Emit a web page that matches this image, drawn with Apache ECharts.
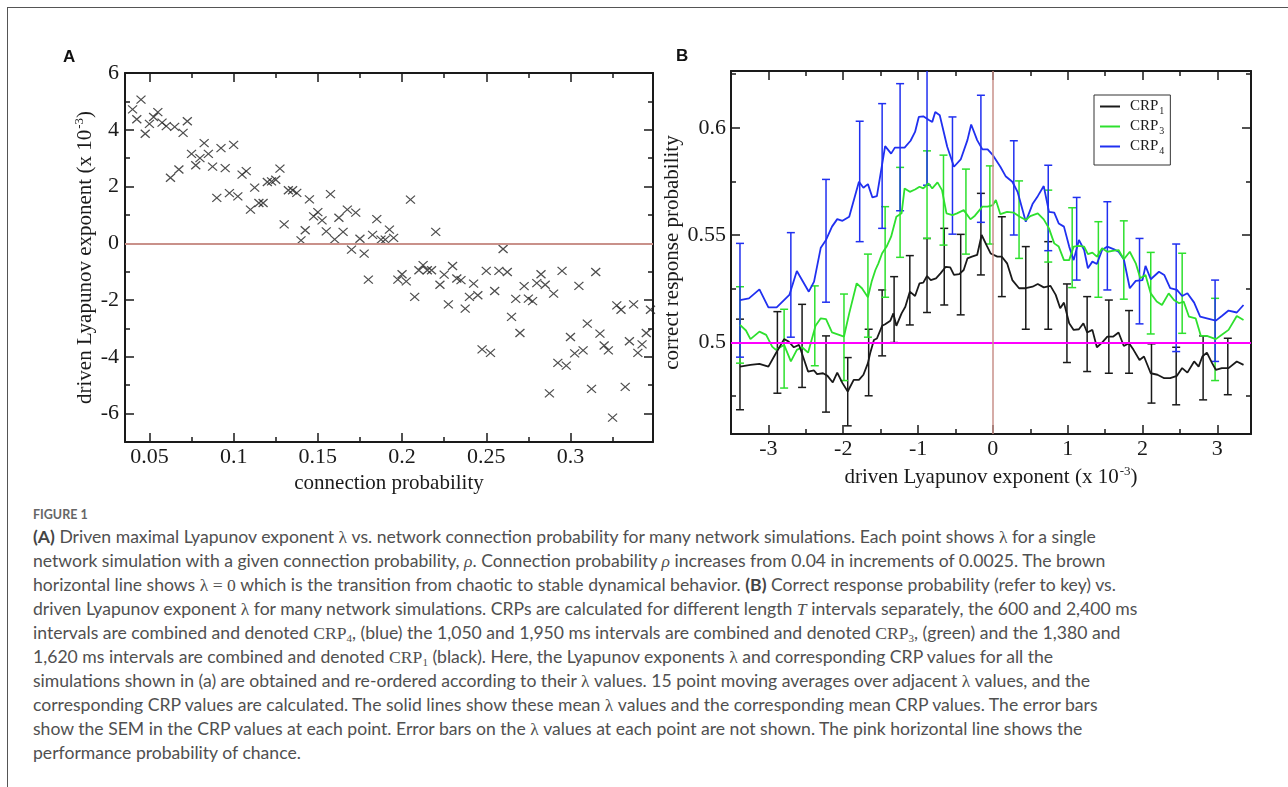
<!DOCTYPE html>
<html>
<head>
<meta charset="utf-8">
<script src="https://cdn.jsdelivr.net/npm/echarts@6/dist/echarts.min.js"></script>
<style>
  html, body { margin: 0; padding: 0; background: #fff; }
  #frame { position: absolute; left: 7px; top: 7px; width: 1300px; height: 800px;
           border-top: 1px solid #555; border-left: 1px solid #555; }
  #chart { position: absolute; left: 0; top: 0; width: 1288px; height: 500px; }
  #caption { position: absolute; left: 33px; top: 505px; font-family: Lato, "Open Sans", sans-serif;
             color: #505050; font-size: 17.6px; line-height: 24px; white-space: nowrap; }
  #caption .fig { font-size: 12.5px; font-weight: bold; color: #666; line-height: 20px; }
  #caption b { font-weight: bold; color: #444; }
  .m { font-family: "Liberation Serif", serif; }
  .mi { font-family: "Liberation Serif", serif; font-style: italic; }
  sub { font-size: 11px; vertical-align: -3px; line-height: 0; }
</style>
</head>
<body>
<div id="frame"></div>
<div id="chart"></div>
<div id="caption">
  <div class="fig">FIGURE 1</div>
  <div><b>(A)</b> Driven maximal Lyapunov exponent <span class="m">λ</span> vs. network connection probability for many network simulations. Each point shows <span class="m">λ</span> for a single</div>
  <div>network simulation with a given connection probability, <span class="mi">ρ</span>. Connection probability <span class="mi">ρ</span> increases from 0.04 in increments of 0.0025. The brown</div>
  <div>horizontal line shows <span class="m">λ = 0</span> which is the transition from chaotic to stable dynamical behavior. <b>(B)</b> Correct response probability (refer to key) vs.</div>
  <div>driven Lyapunov exponent <span class="m">λ</span> for many network simulations. CRPs are calculated for different length <span class="mi">T</span> intervals separately, the 600 and 2,400 ms</div>
  <div>intervals are combined and denoted <span class="m">CRP<sub>4</sub></span>, (blue) the 1,050 and 1,950 ms intervals are combined and denoted <span class="m">CRP<sub>3</sub></span>, (green) and the 1,380 and</div>
  <div>1,620 ms intervals are combined and denoted <span class="m">CRP<sub>1</sub></span> (black). Here, the Lyapunov exponents <span class="m">λ</span> and corresponding CRP values for all the</div>
  <div>simulations shown in (a) are obtained and re-ordered according to their <span class="m">λ</span> values. 15 point moving averages over adjacent <span class="m">λ</span> values, and the</div>
  <div>corresponding CRP values are calculated. The solid lines show these mean <span class="m">λ</span> values and the corresponding mean CRP values. The error bars</div>
  <div>show the SEM in the CRP values at each point. Error bars on the <span class="m">λ</span> values at each point are not shown. The pink horizontal line shows the</div>
  <div>performance probability of chance.</div>
</div>
<script>
// panel A: connection probability vs driven Lyapunov exponent (x 1e-3)
var rho = [0.04, 0.0425, 0.045, 0.0475, 0.05, 0.0525, 0.055, 0.0575, 0.06, 0.0625,
  0.065, 0.0675, 0.07, 0.0725, 0.075, 0.0775, 0.08, 0.0825, 0.085, 0.0875,
  0.09, 0.0925, 0.095, 0.0975, 0.1, 0.1025, 0.105, 0.1075, 0.11, 0.1125,
  0.115, 0.1175, 0.12, 0.1225, 0.125, 0.1275, 0.13, 0.1325, 0.135, 0.1375,
  0.14, 0.1425, 0.145, 0.1475, 0.15, 0.1525, 0.155, 0.1575, 0.16, 0.1625,
  0.165, 0.1675, 0.17, 0.1725, 0.175, 0.1775, 0.18, 0.1825, 0.185, 0.1875,
  0.19, 0.1925, 0.195, 0.1975, 0.2, 0.2025, 0.205, 0.2075, 0.21, 0.2125,
  0.215, 0.2175, 0.22, 0.2225, 0.225, 0.2275, 0.23, 0.2325, 0.235, 0.2375,
  0.24, 0.2425, 0.245, 0.2475, 0.25, 0.2525, 0.255, 0.2575, 0.26, 0.2625,
  0.265, 0.2675, 0.27, 0.2725, 0.275, 0.2775, 0.28, 0.2825, 0.285, 0.2875,
  0.29, 0.2925, 0.295, 0.2975, 0.3, 0.3025, 0.305, 0.3075, 0.31, 0.3125,
  0.315, 0.3175, 0.32, 0.3225, 0.325, 0.3275, 0.33, 0.3325, 0.335, 0.3375,
  0.34, 0.3425, 0.345, 0.3475];
var lyap = [4.72, 4.37, 5.06, 3.86, 4.21, 4.45, 4.62, 4.25, 4.13, 2.31,
  4.10, 2.60, 3.89, 4.30, 3.15, 2.75, 3.00, 3.53, 3.15, 2.70,
  1.60, 3.35, 2.65, 1.77, 3.47, 1.65, 2.42, 2.54, 1.19, 1.96,
  1.42, 1.42, 2.16, 2.18, 2.24, 2.63, 0.67, 1.87, 1.87, 1.78,
  0.10, 0.46, 1.55, 0.95, 1.10, 0.81, 0.42, 1.73, 0.14, 0.90,
  0.40, 1.19, -0.22, 1.08, 0.16, -0.36, -1.28, 0.30, 0.85, 0.13,
  0.13, 0.48, 0.19, -1.28, -1.09, -1.34, 1.54, -1.89, -0.95, -0.77,
  -0.95, -0.95, 0.40, -1.46, -1.10, -2.15, -0.80, -1.24, -1.30, -2.30,
  -1.89, -1.42, -1.83, -3.74, -0.97, -3.86, -1.68, -0.97, -0.20, -1.01,
  -2.59, -1.96, -3.16, -1.51, -1.95, -2.04, -1.40, -1.09, -1.46, -5.29,
  -1.77, -4.21, -0.97, -4.31, -3.30, -3.88, -1.50, -3.77, -2.83, -5.13,
  -1.01, -3.18, -3.60, -3.77, -6.14, -2.19, -2.34, -5.06, -3.45, -2.15,
  -3.86, -3.56, -3.16, -2.34];
var ticksAx = [0.05, 0.1, 0.15, 0.2, 0.25, 0.3];
var minorAx = [0.075, 0.125, 0.175, 0.225, 0.275, 0.325];
var ticksAy = [-6, -4, -2, 0, 2, 4, 6];
var minorAy = [-5, -3, -1, 1, 3, 5];

// panel B: moving averages of CRP vs driven Lyapunov exponent
var lamCRP4 = [-3.38, -3.26, -3.12, -3.0, -2.89, -2.72, -2.62, -2.46, -2.39, -2.30,
  -2.23, -2.15, -2.08, -2.01, -1.92, -1.79, -1.73, -1.67, -1.61, -1.55,
  -1.44, -1.36, -1.31, -1.18, -1.10, -1.04, -0.99, -0.93, -0.85, -0.81,
  -0.77, -0.71, -0.61, -0.52, -0.43, -0.34, -0.29, -0.21, -0.14, -0.07,
  0.0, 0.10, 0.17, 0.26, 0.33, 0.44, 0.53, 0.60, 0.68, 0.75,
  0.82, 0.88, 0.95, 1.02, 1.08, 1.15, 1.22, 1.27, 1.33, 1.39,
  1.46, 1.53, 1.62, 1.68, 1.75, 1.83, 1.91, 2.0, 2.04, 2.11,
  2.22, 2.29, 2.37, 2.46, 2.53, 2.60, 2.69, 2.77, 2.86, 2.98,
  3.06, 3.15, 3.26, 3.35];
var crp4 = [0.5198, 0.5206, 0.5248, 0.5164, 0.5164, 0.5222, 0.5333, 0.5237, 0.5284, 0.5442,
  0.5478, 0.554, 0.5575, 0.5567, 0.5586, 0.5749, 0.5721, 0.5738, 0.5676, 0.5682,
  0.5915, 0.588, 0.5908, 0.5908, 0.594, 0.5981, 0.6051, 0.6054, 0.6036, 0.6028,
  0.6074, 0.6059, 0.5912, 0.5819, 0.5853, 0.5943, 0.6016, 0.5943, 0.59, 0.59,
  0.5873, 0.5819, 0.5775, 0.5749, 0.5702, 0.5563, 0.5645, 0.5682, 0.5729, 0.5609,
  0.5605, 0.5555, 0.554, 0.5447, 0.5384, 0.5478, 0.5431, 0.5346, 0.5377, 0.5366,
  0.5431, 0.5447, 0.5434, 0.5423, 0.5388, 0.5253, 0.5287, 0.5291, 0.5357, 0.5295,
  0.533, 0.5315, 0.5253, 0.5245, 0.5217, 0.523, 0.5186, 0.5121, 0.5113, 0.5102,
  0.5124, 0.5149, 0.514, 0.5175];
var lamCRP3 = [-3.38, -3.30, -3.24, -3.12, -3.03, -2.95, -2.90, -2.79, -2.70, -2.62,
  -2.55, -2.47, -2.37, -2.30, -2.23, -2.15, -1.99, -1.92, -1.82, -1.75,
  -1.67, -1.62, -1.57, -1.53, -1.48, -1.42, -1.36, -1.29, -1.22, -1.18,
  -1.11, -1.04, -0.98, -0.93, -0.86, -0.81, -0.74, -0.68, -0.62, -0.54,
  -0.48, -0.39, -0.30, -0.24, -0.14, -0.07, 0.0, 0.04, 0.10, 0.19,
  0.28, 0.36, 0.44, 0.50, 0.60, 0.68, 0.75, 0.82, 0.88, 0.95,
  1.02, 1.08, 1.15, 1.22, 1.27, 1.33, 1.39, 1.46, 1.53, 1.62,
  1.68, 1.75, 1.83, 1.91, 1.97, 2.04, 2.11, 2.19, 2.26, 2.35,
  2.42, 2.49, 2.55, 2.62, 2.71, 2.78, 2.86, 2.98, 3.06, 3.15,
  3.26, 3.35];
var crp3 = [0.5082, 0.5056, 0.5016, 0.5051, 0.5036, 0.4981, 0.4966, 0.4989, 0.4912, 0.4966,
  0.4978, 0.4953, 0.5078, 0.5113, 0.5109, 0.5047, 0.5028, 0.5136, 0.5276, 0.5253,
  0.5211, 0.5284, 0.5338, 0.5369, 0.5416, 0.5447, 0.5493, 0.5586, 0.5602, 0.5718,
  0.5702, 0.5713, 0.5726, 0.5718, 0.5741, 0.5718, 0.5746, 0.571, 0.5602, 0.5594,
  0.5602, 0.5617, 0.5574, 0.5591, 0.5633, 0.5633, 0.564, 0.5664, 0.5598, 0.5609,
  0.5605, 0.5586, 0.5571, 0.5589, 0.5602, 0.5574, 0.5532, 0.5462, 0.5447, 0.5384,
  0.5384, 0.5447, 0.545, 0.5447, 0.5412, 0.5419, 0.54, 0.5439, 0.5423, 0.5428,
  0.5431, 0.5388, 0.5423, 0.5369, 0.5299, 0.5315, 0.5229, 0.5191, 0.5175, 0.5229,
  0.5198, 0.5183, 0.5191, 0.5121, 0.5113, 0.5031, 0.5031, 0.5016, 0.5036, 0.5059,
  0.5124, 0.5105];
var lamCRP1 = [-3.38, -3.24, -3.12, -3.0, -2.9, -2.79, -2.73, -2.66, -2.59, -2.47,
  -2.39, -2.35, -2.27, -2.21, -2.14, -2.08, -2.01, -1.94, -1.86, -1.79,
  -1.73, -1.67, -1.64, -1.59, -1.55, -1.48, -1.44, -1.37, -1.33, -1.29,
  -1.22, -1.17, -1.11, -1.04, -0.98, -0.93, -0.88, -0.83, -0.76, -0.70,
  -0.63, -0.57, -0.52, -0.45, -0.39, -0.34, -0.28, -0.21, -0.15, -0.08,
  -0.03, 0.06, 0.12, 0.19, 0.26, 0.35, 0.44, 0.53, 0.60, 0.68,
  0.77, 0.84, 0.90, 0.95, 1.02, 1.08, 1.15, 1.21, 1.26, 1.33,
  1.39, 1.46, 1.53, 1.61, 1.68, 1.75, 1.82, 1.88, 1.96, 2.02,
  2.11, 2.20, 2.29, 2.37, 2.46, 2.53, 2.60, 2.69, 2.75, 2.80,
  2.86, 2.93, 2.98, 3.06, 3.15, 3.26, 3.35];
var crp1 = [0.4888, 0.4896, 0.4901, 0.4888, 0.495, 0.5016, 0.5005, 0.4978, 0.4989, 0.4865,
  0.487, 0.4853, 0.4857, 0.4845, 0.4814, 0.486, 0.4811, 0.4772, 0.4826, 0.4826,
  0.485, 0.4904, 0.495, 0.5012, 0.5019, 0.5078, 0.5085, 0.5102, 0.5136, 0.5078,
  0.5136, 0.5167, 0.5237, 0.5217, 0.5276, 0.5279, 0.531, 0.5291, 0.5299, 0.5322,
  0.5353, 0.535, 0.5315, 0.5319, 0.5338, 0.5392, 0.54, 0.5408, 0.5501, 0.545,
  0.5415, 0.54, 0.54, 0.5369, 0.5291, 0.5253, 0.5253, 0.526, 0.5273, 0.5257,
  0.5264, 0.5222, 0.516, 0.5186, 0.509, 0.5059, 0.5062, 0.509, 0.5047, 0.5059,
  0.4978, 0.5, 0.5028, 0.5028, 0.5047, 0.4984, 0.4997, 0.4966, 0.4919, 0.4935,
  0.4857, 0.485, 0.4834, 0.4834, 0.4845, 0.4881, 0.486, 0.4912, 0.4888, 0.4935,
  0.4953, 0.4904, 0.4873, 0.4881, 0.4881, 0.4912, 0.4896];

// SEM error bars (position, low, high)
var errX4 = [-3.38, -2.70, -2.23, -1.78, -1.48, -1.24, -0.88, -0.54, -0.16, 0.28, 0.74, 1.12, 1.53, 1.96, 2.45, 2.97];
var errLo4 = [0.4932, 0.5025, 0.5188, 0.547, 0.5532, 0.5614, 0.5733, 0.5505, 0.556, 0.5501, 0.5428, 0.5291, 0.5245, 0.5087, 0.4958, 0.4912];
var errHi4 = [0.5462, 0.5512, 0.576, 0.6031, 0.6113, 0.6206, 0.635, 0.6051, 0.6152, 0.594, 0.5826, 0.5676, 0.5656, 0.5485, 0.5459, 0.5291];
var errX3 = [-3.38, -2.79, -2.38, -1.99, -1.67, -1.44, -1.24, -0.88, -0.66, -0.36, -0.04, 0.35, 0.74, 1.06, 1.41, 1.75, 2.11, 2.53, 2.97];
var errLo3 = [0.4904, 0.4788, 0.4892, 0.4823, 0.5025, 0.5211, 0.5397, 0.5485, 0.5454, 0.5412, 0.5459, 0.5392, 0.5375, 0.5256, 0.5211, 0.5202, 0.504, 0.5043, 0.4823];
var errHi3 = [0.526, 0.5155, 0.5264, 0.5226, 0.5412, 0.5633, 0.5816, 0.5893, 0.5873, 0.5808, 0.5823, 0.5753, 0.571, 0.5628, 0.5563, 0.5567, 0.542, 0.5416, 0.5206];
var errX1 = [-3.38, -2.88, -2.55, -2.23, -1.94, -1.66, -1.48, -1.32, -1.11, -0.88, -0.65, -0.43, -0.16, 0.12, 0.44, 0.74, 0.99, 1.26, 1.55, 1.82, 2.12, 2.45, 2.81, 3.14];
var errLo1 = [0.4687, 0.4764, 0.4791, 0.4676, 0.4612, 0.4752, 0.4938, 0.5, 0.5082, 0.514, 0.5175, 0.5129, 0.5315, 0.5214, 0.5062, 0.5062, 0.4907, 0.4865, 0.4857, 0.4857, 0.4718, 0.471, 0.4733, 0.4757];
var errHi1 = [0.5109, 0.5144, 0.5178, 0.5031, 0.493, 0.5062, 0.5245, 0.5307, 0.5405, 0.5485, 0.5532, 0.5504, 0.5695, 0.5586, 0.5447, 0.547, 0.5273, 0.5214, 0.5198, 0.5149, 0.4994, 0.4978, 0.5031, 0.502];
var ticksBx = [-3, -2, -1, 0, 1, 2, 3];
var minorBx = [-2.5, -1.5, -0.5, 0.5, 1.5, 2.5];
var ticksBy = [0.5, 0.55, 0.6];
var minorBy = [0.475, 0.525, 0.575, 0.625];

var INK = '#1a1a1a';
var SERIF = '"Liberation Serif", "Times New Roman", serif';

function zip(a, b) {
    return a.map(function (v, i) { return [v, b[i]]; });
}

// one axis = one side of the frame, ticks pointing inward
function side(grid, pos, min, max, vals, len, frame, extra) {
    var a = {
        type: 'value', gridIndex: grid, position: pos, min: min, max: max,
        axisLine: {show: frame, onZero: false, lineStyle: {color: INK, width: 2}},
        axisTick: {show: true, inside: true, length: len, customValues: vals,
                   lineStyle: {color: INK, width: 1.5}},
        axisLabel: {show: false},
        splitLine: {show: false}
    };
    return Object.assign(a, extra || {});
}

function labelled(vals, margin) {
    return {
        axisLabel: {show: true, customValues: vals, margin: margin,
                    fontFamily: SERIF, fontSize: 22, color: INK}
    };
}

// superscript: padding below the small text lifts it inside the line box
var nameStyle = {
    fontFamily: SERIF, fontSize: 21, color: INK,
    rich: {sup: {fontFamily: SERIF, fontSize: 13, color: INK, padding: [0, 0, 11, 1]}}
};

var axMin = 0.0355, axMax = 0.349, ayMin = -7, ayMax = 6;
var bxMin = -3.5, bxMax = 3.45, byMin = 0.4574, byMax = 0.6265;

var xAxes = [
    side(0, 'bottom', axMin, axMax, ticksAx, 9, true, Object.assign(labelled(ticksAx, 4), {
        name: 'connection probability', nameLocation: 'middle', nameGap: 17, nameTextStyle: nameStyle})),
    side(0, 'bottom', axMin, axMax, minorAx, 5, false),
    side(0, 'top', axMin, axMax, ticksAx, 9, true),
    side(0, 'top', axMin, axMax, minorAx, 5, false),
    side(1, 'bottom', bxMin, bxMax, ticksBx, 9, true, Object.assign(labelled(ticksBx, 4), {
        name: 'driven Lyapunov exponent (x 10{sup|-3})', nameLocation: 'middle', nameGap: 31, nameTextStyle: nameStyle})),
    side(1, 'bottom', bxMin, bxMax, minorBx, 5, false),
    side(1, 'top', bxMin, bxMax, ticksBx, 9, true),
    side(1, 'top', bxMin, bxMax, minorBx, 5, false)
];
var yAxes = [
    side(0, 'left', ayMin, ayMax, ticksAy, 9, true, Object.assign(labelled(ticksAy, 6), {
        name: 'driven Lyapunov exponent (x 10{sup|-3})', nameLocation: 'middle', nameGap: 28, nameTextStyle: nameStyle})),
    side(0, 'left', ayMin, ayMax, minorAy, 5, false),
    side(0, 'right', ayMin, ayMax, ticksAy, 9, true),
    side(0, 'right', ayMin, ayMax, minorAy, 5, false),
    side(1, 'left', byMin, byMax, ticksBy, 9, true, Object.assign(labelled(ticksBy, 5), {
        name: 'correct response probability', nameLocation: 'middle', nameGap: 48, nameTextStyle: nameStyle})),
    side(1, 'left', byMin, byMax, minorBy, 5, false),
    side(1, 'right', byMin, byMax, ticksBy, 9, true),
    side(1, 'right', byMin, byMax, minorBy, 5, false)
];

function errorBars(name, color, xs, lo, hi) {
    return {
        type: 'custom', name: name, xAxisIndex: 4, yAxisIndex: 4, clip: true, silent: true, z: 3,
        data: xs.map(function (x, i) { return [x, lo[i], hi[i]]; }),
        encode: {x: 0, y: [1, 2]},
        renderItem: function (params, api) {
            var top = api.coord([api.value(0), api.value(2)]);
            var bot = api.coord([api.value(0), api.value(1)]);
            var w = 4;
            var st = {stroke: color, lineWidth: 1.5};
            return {type: 'group', children: [
                {type: 'line', shape: {x1: top[0], y1: top[1], x2: bot[0], y2: bot[1]}, style: st},
                {type: 'line', shape: {x1: top[0] - w, y1: top[1], x2: top[0] + w, y2: top[1]}, style: st},
                {type: 'line', shape: {x1: bot[0] - w, y1: bot[1], x2: bot[0] + w, y2: bot[1]}, style: st}
            ]};
        }
    };
}

function crpLine(name, color, xs, ys) {
    return {
        type: 'line', name: name, xAxisIndex: 4, yAxisIndex: 4, z: 4,
        showSymbol: false, symbol: 'none', animation: false,
        lineStyle: {color: color, width: 1.8}, itemStyle: {color: color},
        data: zip(xs, ys)
    };
}

var BLUE = '#2030f0', GREEN = '#2ee02e', BLACK = '#1a1a1a';

var myChart = echarts.init(document.getElementById('chart'));
var option = {
    animation: false,
    grid: [
        {left: 125, top: 73, width: 528, height: 369},
        {left: 731, top: 71, width: 520, height: 363}
    ],
    xAxis: xAxes,
    yAxis: yAxes,
    graphic: [
        {type: 'text', left: 63, top: 49, style: {text: 'A', font: 'bold 17px "Liberation Sans", Arial, sans-serif', fill: '#111'}},
        {type: 'text', left: 676, top: 48, style: {text: 'B', font: 'bold 17px "Liberation Sans", Arial, sans-serif', fill: '#111'}}
    ],
    legend: {
        data: ['CRP1', 'CRP3', 'CRP4'],
        orient: 'vertical', left: 1094, top: 95,
        padding: [4, 6, 9, 6], itemGap: 3,
        icon: 'rect', itemWidth: 20, itemHeight: 2,
        borderColor: '#333', borderWidth: 1,
        selectedMode: false,
        formatter: function (name) { return '{b|CRP}{s|' + name.slice(3) + '}'; },
        textStyle: {
            fontFamily: SERIF, fontSize: 15, color: INK,
            rich: {
                b: {fontFamily: SERIF, fontSize: 15, color: INK, padding: [0, 0, 0, 5], lineHeight: 20},
                s: {fontFamily: SERIF, fontSize: 10, color: INK, padding: [9, 0, 0, 1]}
            }
        }
    },
    series: [
        {
            type: 'scatter', name: 'lambda', xAxisIndex: 0, yAxisIndex: 0,
            symbol: 'path://M0,0L10,10M10,0L0,10', symbolSize: [9, 8],
            itemStyle: {color: 'none', borderColor: '#222', borderWidth: 1.2},
            data: zip(rho, lyap),
            markLine: {
                silent: true, symbol: 'none', label: {show: false}, animation: false,
                lineStyle: {color: '#c9918a', width: 2, type: 'solid'},
                data: [{yAxis: 0}]
            }
        },
        errorBars('CRP1 err', BLACK, errX1, errLo1, errHi1),
        errorBars('CRP3 err', GREEN, errX3, errLo3, errHi3),
        errorBars('CRP4 err', BLUE, errX4, errLo4, errHi4),
        crpLine('CRP4', BLUE, lamCRP4, crp4),
        crpLine('CRP3', GREEN, lamCRP3, crp3),
        Object.assign(crpLine('CRP1', BLACK, lamCRP1, crp1), {
            markLine: {
                silent: true, symbol: 'none', label: {show: false}, animation: false,
                data: [
                    {yAxis: 0.5, lineStyle: {color: '#ff00ff', width: 2, type: 'solid'}},
                    {xAxis: 0, lineStyle: {color: '#c9918a', width: 1.5, type: 'solid'}}
                ]
            }
        })
    ]
};
myChart.setOption(option);
</script>
</body>
</html>
